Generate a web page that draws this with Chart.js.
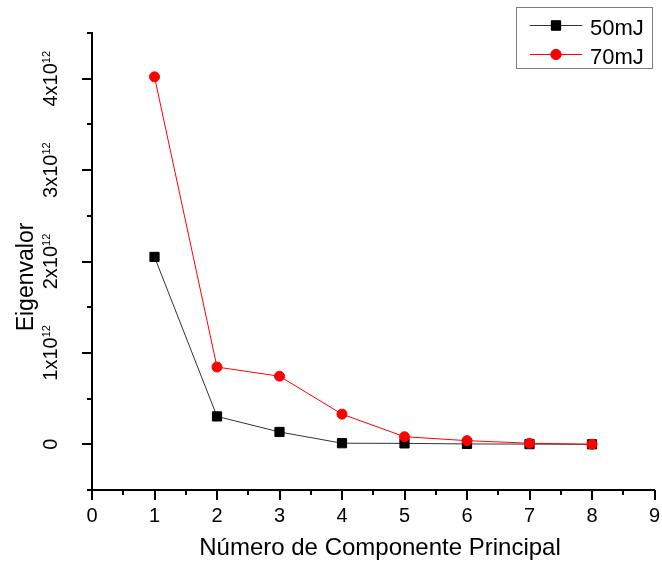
<!DOCTYPE html>
<html>
<head>
<meta charset="utf-8">
<title>Eigenvalor</title>
<script src="https://cdn.jsdelivr.net/npm/chart.js@4.4.1/dist/chart.umd.min.js"></script>
<style>
  html, body { margin: 0; padding: 0; background: #fff; }
  canvas { display: block; }
</style>
</head>
<body>
<canvas id="eigenChart" width="662" height="562"></canvas>
<script>
// principal component number
const components = [1, 2, 3, 4, 5, 6, 7, 8];
// eigenvalues per laser energy
const eig50mJ = [2.05e12, 0.305e12, 0.135e12, 0.012e12, 0.010e12, 0.004e12, 0.002e12, 0.0];
const eig70mJ = [4.02e12, 0.845e12, 0.745e12, 0.330e12, 0.083e12, 0.040e12, 0.012e12, 0.0];
const seriesNames = ["50mJ", "70mJ"];
const xTickValues = [0, 1, 2, 3, 4, 5, 6, 7, 8, 9];
const yTickValues = [0, 1e12, 2e12, 3e12, 4e12];

const FONT = "'Liberation Sans', Arial, sans-serif";

function points(ys) {
    return components.map((x, i) => ({ x: x, y: ys[i] }));
}

// "4x10" + superscript "12"
function yLabelParts(v) {
    if (v === 0) return ["0", ""];
    const exp = Math.floor(Math.log10(v) + 1e-9);
    const mant = Math.round(v / Math.pow(10, exp));
    return [mant + "x10", String(exp)];
}

// axis ticks (major + minor), tick labels and titles, Origin style
const axisDecor = {
    id: "axisDecor",
    afterDraw(chart) {
        const ctx = chart.ctx;
        const xs = chart.scales.x, ys = chart.scales.y;
        const area = chart.chartArea;
        ctx.save();
        ctx.strokeStyle = "#000";
        ctx.lineWidth = 2;
        ctx.fillStyle = "#000";

        // x ticks every 0.5
        ctx.beginPath();
        for (let v = xs.min; v <= xs.max + 1e-9; v += 0.5) {
            const px = Math.round(xs.getPixelForValue(v));
            const len = Number.isInteger(v) ? 10 : 5;
            ctx.moveTo(px, area.bottom);
            ctx.lineTo(px, area.bottom + len);
        }
        // y ticks every 0.5e12
        for (let v = ys.min; v <= ys.max + 1; v += 0.5e12) {
            const py = Math.round(ys.getPixelForValue(v));
            const major = Math.abs(Math.round(v / 1e12) * 1e12 - v) < 1 && v >= 0 && v <= 4e12;
            const len = major ? 10 : 5;
            ctx.moveTo(area.left, py);
            ctx.lineTo(area.left - len, py);
        }
        ctx.stroke();

        // x tick labels
        ctx.font = "20px " + FONT;
        ctx.textAlign = "center";
        ctx.textBaseline = "alphabetic";
        xTickValues.forEach(v => {
            ctx.fillText(String(v), xs.getPixelForValue(v), 522);
        });

        // y tick labels, rotated
        yTickValues.forEach(v => {
            const [main, sup] = yLabelParts(v);
            const py = ys.getPixelForValue(v);
            ctx.save();
            ctx.translate(57, py);
            ctx.rotate(-Math.PI / 2);
            ctx.font = "20px " + FONT;
            const wMain = ctx.measureText(main).width;
            ctx.font = "11px " + FONT;
            const wSup = ctx.measureText(sup).width;
            const start = -(wMain + wSup) / 2;
            ctx.textAlign = "left";
            ctx.font = "20px " + FONT;
            ctx.fillText(main, start, 0);
            if (sup) {
                ctx.font = "11px " + FONT;
                ctx.fillText(sup, start + wMain, -7);
            }
            ctx.restore();
        });

        // axis titles
        ctx.font = "24px " + FONT;
        ctx.textAlign = "center";
        ctx.fillText("Número de Componente Principal", 380, 555);
        ctx.font = "23px " + FONT;
        ctx.save();
        ctx.translate(33, 277);
        ctx.rotate(-Math.PI / 2);
        ctx.fillText("Eigenvalor", 0, 0);
        ctx.restore();

        ctx.restore();
    }
};

// boxed legend in the upper right corner
const boxLegend = {
    id: "boxLegend",
    afterDraw(chart) {
        const ctx = chart.ctx;
        ctx.save();
        ctx.strokeStyle = "#7f7f7f";
        ctx.lineWidth = 1;
        ctx.strokeRect(516.5, 7.5, 136, 61);
        const rows = [25, 54];
        chart.data.datasets.forEach((ds, i) => {
            const y = rows[i];
            ctx.strokeStyle = ds.borderColor;
            ctx.lineWidth = 1;
            ctx.beginPath();
            ctx.moveTo(530, y + 0.5);
            ctx.lineTo(582, y + 0.5);
            ctx.stroke();
            Chart.helpers.drawPoint(ctx, {
                pointStyle: ds.pointStyle,
                radius: ds.pointRadius,
                borderWidth: ds.pointBorderWidth,
                rotation: 0
            }, 556, y + 0.5);
            ctx.fillStyle = ds.pointBackgroundColor;
            ctx.strokeStyle = ds.pointBorderColor;
            ctx.lineWidth = ds.pointBorderWidth;
            ctx.fill();
            ctx.stroke();
            ctx.fillStyle = "#000";
            ctx.font = "22px " + FONT;
            ctx.textAlign = "left";
            ctx.textBaseline = "alphabetic";
            ctx.fillText(ds.label, 590, y + 10);
        });
        ctx.restore();
    }
};

const ctx = document.getElementById("eigenChart").getContext("2d");
new Chart(ctx, {
    type: "line",
    data: {
        datasets: [
            {
                label: seriesNames[0],
                data: points(eig50mJ),
                borderColor: "#333333",
                borderWidth: 1,
                pointStyle: "rect",
                pointRadius: 6.5,
                pointBorderWidth: 1,
                pointBackgroundColor: "#000",
                pointBorderColor: "#000",
                tension: 0,
                order: 1
            },
            {
                label: seriesNames[1],
                data: points(eig70mJ),
                borderColor: "#ff0000",
                borderWidth: 1,
                pointStyle: "circle",
                pointRadius: 5,
                pointBorderWidth: 1,
                pointBackgroundColor: "#ff0000",
                pointBorderColor: "#ff0000",
                tension: 0,
                order: 0
            }
        ]
    },
    options: {
        responsive: false,
        animation: false,
        layout: { padding: { left: 0, right: 6, top: 33, bottom: 0 } },
        plugins: {
            legend: { display: false },
            tooltip: { enabled: false }
        },
        scales: {
            x: {
                type: "linear",
                min: 0,
                max: 9,
                grid: { display: false, drawTicks: false },
                ticks: { display: false },
                border: { display: true, color: "#000", width: 2 },
                afterFit: s => { s.height = 72; }
            },
            y: {
                type: "linear",
                min: -0.5e12,
                max: 4.5e12,
                grid: { display: false, drawTicks: false },
                ticks: { display: false },
                border: { display: true, color: "#000", width: 2 },
                afterFit: s => { s.width = 92; }
            }
        }
    },
    plugins: [axisDecor, boxLegend]
});
</script>
</body>
</html>
